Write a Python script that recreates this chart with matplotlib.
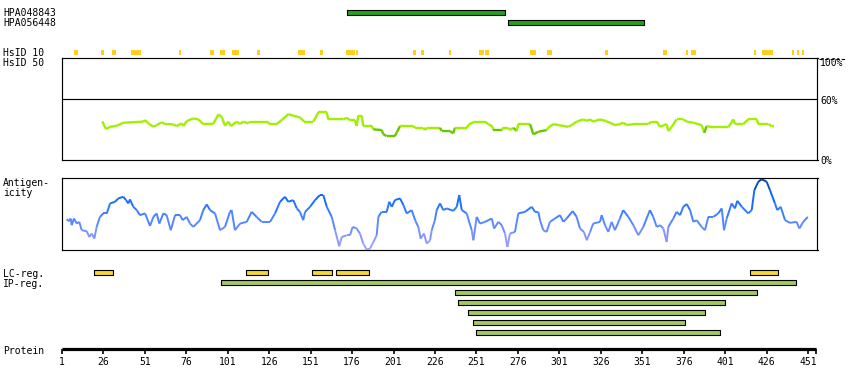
import matplotlib
matplotlib.use("Agg")
import matplotlib.pyplot as plt
import numpy as np
from matplotlib.collections import LineCollection
from matplotlib.colors import LinearSegmentedColormap
from matplotlib.lines import Line2D

# ---------------- data ----------------
protein_length = 456
tick_residues = [1, 26, 51, 76, 101, 126, 151, 176, 201, 226, 251, 276, 301,
                 326, 351, 376, 401, 426, 451]

antibody_names = ["HPA048843", "HPA056448"]
antibody_start = [173, 270]
antibody_end = [268, 352]

hsid10_start = [9, 25, 32, 43, 45, 72, 91, 97, 104, 119, 144, 157, 173, 179, 213, 218,
                235, 253, 257, 284, 294, 296, 329, 364, 378, 381, 419, 424, 442, 445, 448]
hsid10_end = [10, 26, 33, 44, 48, 72, 92, 99, 107, 120, 147, 158, 177, 179, 214, 219,
              235, 255, 258, 286, 295, 296, 330, 365, 378, 383, 419, 429, 442, 445, 448]

lc_start = [20, 112, 152, 166, 416]
lc_end = [32, 125, 164, 186, 433]

ip_start = [97, 238, 240, 246, 249, 251]
ip_end = [444, 420, 401, 389, 377, 398]

sim_pos = [25.3, 27.5, 30.0, 34.0, 38.0, 50.0, 51.1, 53.1, 56.1, 58.1,
           61.1, 63.1, 68.1, 70.2, 73.2, 74.2, 76.2, 80.2, 83.2, 86.2,
           92.3, 95.3, 97.3, 99.3, 101.3, 102.9, 106.4, 108.4, 110.3, 113.4,
           114.4, 124.5, 126.5, 130.5, 133.5, 137.5, 140.5, 144.5, 147.0, 152.6,
           155.6, 160.6, 161.6, 170.7, 172.7, 174.7, 177.7, 178.7, 179.7, 181.8,
           182.7, 187.8, 188.8, 193.8, 194.8, 196.8, 201.8, 202.9, 204.9, 212.9,
           213.9, 218.9, 219.9, 221.0, 229.0, 230.0, 235.0, 237.0, 238.0, 245.1,
           246.7, 250.1, 256.1, 258.1, 260.8, 261.1, 266.2, 267.2, 270.2, 271.2,
           273.2, 275.2, 276.2, 283.3, 285.3, 288.3, 293.3, 294.3, 297.3, 300.3,
           306.4, 308.4, 311.4, 315.4, 317.5, 319.5, 321.4, 325.5, 328.5, 331.5,
           334.5, 337.5, 339.5, 341.6, 345.6, 354.6, 356.7, 359.7, 361.7, 365.7,
           366.7, 368.7, 371.7, 375.7, 377.8, 381.8, 386.8, 388.4, 389.8, 393.8,
           402.9, 405.9, 406.9, 411.9, 414.9, 420.0, 421.0, 427.0, 429.0, 430.4]
sim_val = [38.0, 30.5, 32.7, 33.7, 36.7, 37.8, 39.3, 36.1, 32.7, 34.4,
           37.1, 35.4, 35.1, 33.4, 36.1, 33.4, 38.3, 41.0, 40.0, 35.4,
           35.7, 44.9, 42.6, 33.7, 37.8, 33.4, 37.8, 35.4, 37.8, 36.1,
           37.8, 37.8, 35.4, 35.4, 39.3, 45.2, 43.6, 42.0, 37.8, 37.8,
           46.9, 46.9, 40.0, 40.0, 41.6, 39.3, 39.3, 33.4, 43.6, 43.6,
           33.7, 33.7, 30.2, 29.5, 25.3, 23.6, 23.6, 27.2, 33.4, 33.4,
           31.8, 31.8, 29.5, 31.8, 31.8, 28.5, 28.5, 26.3, 31.8, 31.8,
           35.4, 37.8, 37.8, 35.4, 32.7, 29.5, 29.5, 31.8, 31.8, 29.5,
           31.8, 28.5, 35.4, 35.4, 25.3, 27.8, 29.5, 31.8, 35.4, 34.4,
           32.7, 34.4, 37.8, 40.0, 38.6, 40.0, 37.8, 40.0, 38.6, 36.7,
           34.4, 35.4, 36.7, 34.4, 35.4, 35.4, 37.8, 37.8, 32.7, 35.4,
           28.5, 32.7, 40.0, 40.0, 37.8, 36.7, 34.4, 26.8, 33.4, 32.2,
           32.2, 40.0, 35.4, 35.4, 40.0, 40.0, 35.4, 35.4, 33.4, 33.4]

ant_pos = [3.8, 5.2, 6.2, 6.9, 8.2, 9.9, 11.4, 12.9, 15.9, 17.5, 18.9, 20.5, 21.9, 23.9,
           25.9, 28.0, 30.0, 33.0, 35.0, 38.0, 39.6, 41.0, 42.0, 44.0, 46.1, 48.0, 51.1,
           54.1, 56.1, 58.1, 59.7, 62.1, 64.1, 66.6, 69.2, 72.2, 73.8, 76.2, 78.2, 80.2,
           84.2, 86.2, 88.3, 90.3, 93.3, 96.3, 99.3, 102.3, 103.3, 105.3, 108.4, 112.4,
           115.4, 118.4, 121.4, 126.5, 129.5, 132.5, 135.5, 137.5, 140.5, 142.6, 144.5,
           146.5, 147.6, 150.6, 153.6, 156.6, 158.6, 160.7, 163.7, 165.7, 168.2, 169.7,
           172.7, 174.7, 176.3, 178.7, 180.7, 182.7, 184.8, 186.8, 188.8, 190.8, 191.8,
           193.8, 196.8, 198.4, 199.9, 201.8, 204.9, 206.9, 208.9, 211.9, 214.0, 215.9,
           217.3, 219.3, 221.0, 223.0, 224.0, 225.9, 227.0, 229.0, 231.0, 233.0, 237.0,
           239.1, 240.6, 242.1, 245.1, 248.1, 249.1, 251.1, 253.1, 256.2, 260.2, 261.6,
           264.2, 266.2, 268.2, 269.6, 271.2, 274.2, 276.2, 280.3, 284.3, 286.3, 288.3,
           289.3, 291.3, 293.3, 295.3, 298.3, 301.4, 303.4, 305.4, 309.0, 311.4, 313.4,
           315.8, 317.5, 319.5, 321.4, 325.5, 326.5, 328.5, 330.5, 332.5, 334.5, 337.5,
           339.5, 342.6, 345.6, 348.6, 351.6, 355.6, 357.6, 359.7, 361.7, 363.7, 365.7,
           366.7, 369.7, 371.7, 373.8, 375.7, 377.8, 379.8, 381.8, 383.8, 386.8, 388.8,
           390.8, 393.8, 396.8, 398.9, 400.3, 401.9, 404.9, 406.9, 408.3, 411.0, 414.9,
           417.0, 418.6, 421.0, 423.0, 426.0, 428.0, 431.0, 432.4, 434.5, 437.1, 440.1,
           444.1, 445.7, 448.1, 450.8]
ant_val = [43.2, 40.4, 44.2, 34.9, 44.2, 37.2, 39.5, 27.9, 26.5, 18.5, 23.3, 16.3, 32.5, 46.4,
           51.2, 51.2, 65.1, 67.4, 72.1, 74.3, 69.7, 65.1, 70.7, 60.4, 55.8, 48.8, 51.2,
           33.9, 46.4, 51.2, 37.2, 51.2, 48.8, 27.9, 48.8, 48.8, 41.8, 46.4, 37.2, 32.5,
           41.8, 55.8, 63.7, 55.8, 51.2, 27.9, 32.5, 53.4, 55.8, 27.9, 37.2, 39.5,
           53.4, 46.4, 39.5, 39.5, 51.2, 67.4, 74.3, 67.4, 69.7, 58.2, 53.4,
           41.8, 53.4, 60.4, 69.7, 76.7, 76.7, 60.4, 46.4, 27.9, 5.6, 18.5,
           20.9, 20.9, 32.5, 30.3, 23.3, 9.3, 1.0, 2.4, 11.6, 20.9, 46.4,
           53.4, 53.4, 67.4, 60.4, 69.7, 72.1, 62.8, 51.2, 55.8, 41.8, 32.5,
           16.3, 23.3, 9.3, 13.9, 27.9, 41.8, 55.8, 65.1, 55.8, 58.2, 54.8,
           60.4, 76.7, 55.8, 51.2, 27.9, 13.9, 46.4, 37.2, 39.5, 44.2, 30.3,
           39.5, 34.9, 23.3, 4.6, 23.3, 25.5, 51.2, 53.4, 60.4, 53.4, 53.4,
           41.8, 27.9, 25.5, 39.5, 44.2, 48.8, 39.5, 44.2, 54.4, 46.4, 30.3,
           25.5, 13.9, 25.5, 37.2, 39.5, 48.8, 34.9, 25.5, 39.5, 27.9, 44.2,
           55.8, 46.4, 34.9, 20.9, 32.5, 55.8, 46.4, 32.5, 34.9, 30.3, 11.6,
           32.5, 44.2, 53.4, 48.8, 60.4, 64.2, 55.8, 39.5, 41.8, 32.5, 27.9,
           46.4, 46.4, 51.2, 58.2, 27.9, 44.2, 65.1, 58.2, 68.8, 60.4, 51.2,
           55.8, 83.7, 95.3, 98.6, 95.3, 83.7, 65.1, 55.8, 60.4, 41.8, 38.1,
           39.5, 30.3, 39.5, 46.4]

# ---------------- layout helpers ----------------
W, H, DPI = 850, 390, 100
X0_PX, PX_PER_RES = 62.0, 1.658


def px2res(px):
    return 1 + (px - X0_PX) / PX_PER_RES


def fx(px):
    return px / W


def fy(py):
    return 1 - py / H


plt.rcParams['font.family'] = ['DejaVu Sans Mono']
FS = 7

fig = plt.figure(figsize=(W / DPI, H / DPI), dpi=DPI)
fig.patch.set_facecolor('white')

base = fig.add_axes([0, 0, 1, 1])
base.set_xlim(px2res(0), px2res(W))
base.set_ylim(H, 0)
base.axis('off')


def panel(left, right, top, bottom):
    ax = fig.add_axes([fx(left), fy(bottom), (right - left) / W, (bottom - top) / H])
    ax.set_xlim(px2res(left), px2res(right))
    ax.set_ylim(0, 100)
    ax.set_xticks([])
    ax.set_yticks([])
    for s in ax.spines.values():
        s.set_linewidth(0.85)
        s.set_color('black')
    ax.set_facecolor('none')
    return ax


def label(x, y, s, **kw):
    fig.text(fx(x), fy(y), s, fontsize=FS, va='baseline', ha=kw.pop('ha', 'left'), **kw)


# ---------------- antibodies ----------------
ab_color = '#22a21a'
for i, (name, s, e) in enumerate(zip(antibody_names, antibody_start, antibody_end)):
    base.broken_barh([(s, e - s)], (10 + 10 * i, 4.6), facecolors=ab_color,
                     edgecolors='black', linewidth=0.8)
    label(3, 16.3 + 10 * i, name)

# ---------------- HsID ----------------
hs_color = '#ffcc22'
base.broken_barh([(s - 0.6, e - s + 1.2) for s, e in zip(hsid10_start, hsid10_end)],
                 (50, 5), facecolors=hs_color, edgecolors='none')
label(3, 56, 'HsID 10')
label(3, 66, 'HsID 50')

# ---------------- similarity panel ----------------
sim_ax = panel(62, 817.5, 58.5, 160)
sim_ax.axhline(60, color='black', lw=0.85)
pts = np.column_stack([sim_pos, sim_val])
segs = np.stack([pts[:-1], pts[1:]], axis=1)
avg = (np.array(sim_val[:-1]) + np.array(sim_val[1:])) / 2
cols = ['#66c800' if a < 30.6 else '#a0f000' for a in avg]
sim_ax.add_collection(LineCollection(segs, colors=cols, linewidths=1.7, capstyle='butt'))
label(820, 66, '100%')
label(820, 104, '60%')
label(820, 164.3, '0%')
fig.add_artist(Line2D([fx(819), fx(845)], [fy(58.6), fy(58.6)], transform=fig.transFigure,
                      color='black', lw=0.8, ls=(0, (3, 2))))

# ---------------- antigenicity panel ----------------
ant_ax = panel(62, 817.5, 178.3, 250.3)
cmap = LinearSegmentedColormap.from_list('ag', [(0.0, '#aaa4ff'), (0.2, '#8894ff'),
                                                (0.3, '#6a8cff'), (0.45, '#4a84ff'),
                                                (0.6, '#2a76ff'), (0.75, '#0a68f8'),
                                                (0.85, '#0a5cd8'), (0.95, '#0a4a9c'),
                                                (1.0, '#073f85')])
apts = np.column_stack([ant_pos, ant_val])
asegs = np.stack([apts[:-1], apts[1:]], axis=1)
aavg = (np.array(ant_val[:-1]) + np.array(ant_val[1:])) / 2
lc = LineCollection(asegs, colors=cmap(aavg / 100.0), linewidths=1.4)
ant_ax.add_collection(lc)
label(3, 186, 'Antigen-')
label(3, 196, 'icity')

# ---------------- LC / IP regions ----------------
lc_color = '#f5d632'
ip_color = '#a3c862'
base.broken_barh([(s, e - s) for s, e in zip(lc_start, lc_end)], (270, 4.6),
                 facecolors=lc_color, edgecolors='black', linewidth=0.8)
for i, (s, e) in enumerate(zip(ip_start, ip_end)):
    base.broken_barh([(s, e - s)], (280 + 10 * i, 4.6), facecolors=ip_color,
                     edgecolors='black', linewidth=0.8)
label(3, 277, 'LC-reg.')
label(3, 287, 'IP-reg.')

# ---------------- protein axis ----------------
base.plot([1, protein_length], [349.4, 349.4], color='black', lw=2.3, solid_capstyle='butt')
base.vlines(tick_residues + [protein_length], 349.4, 353.6, color='black', lw=1.2)
for t in tick_residues:
    base.text(t, 365.3, str(t), fontsize=FS, ha='center', va='baseline')
label(3, 354, 'Protein')

fig.savefig('out.png', dpi=DPI, facecolor='white')
